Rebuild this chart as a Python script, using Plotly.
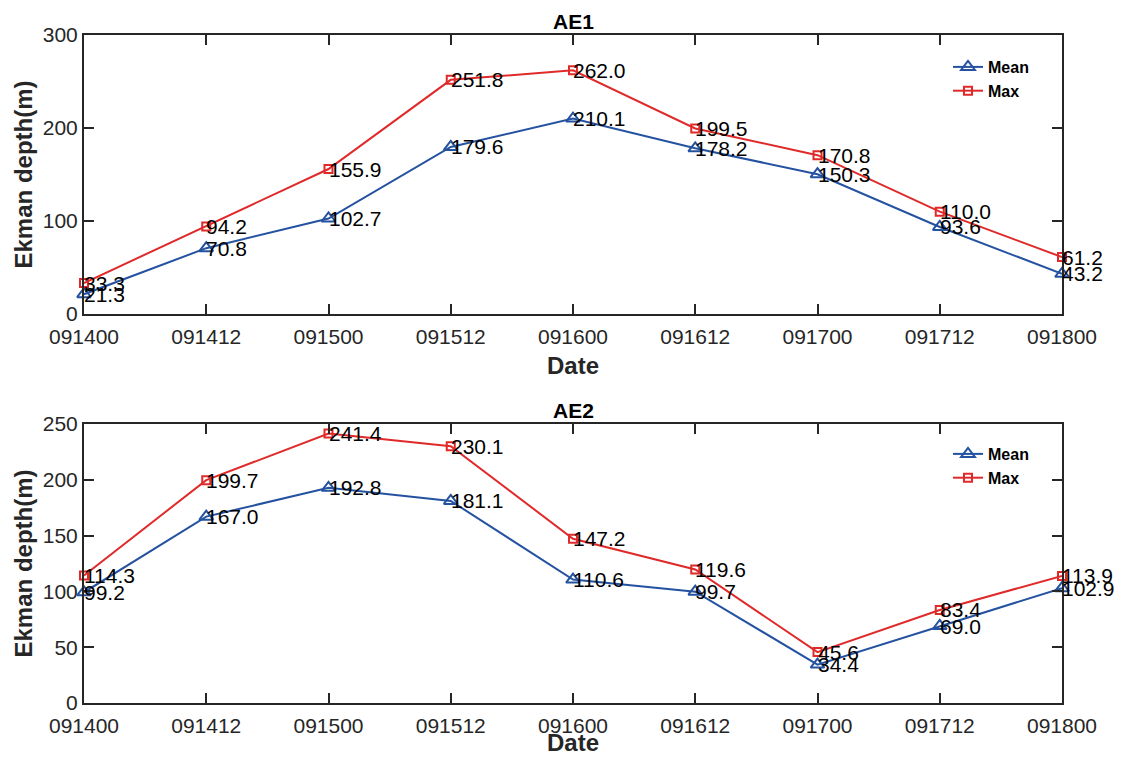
import plotly.graph_objects as go

dates = ["091400", "091412", "091500", "091512", "091600", "091612", "091700", "091712", "091800"]
ae1_mean = [21.3, 70.8, 102.7, 179.6, 210.1, 178.2, 150.3, 93.6, 43.2]
ae1_max = [33.3, 94.2, 155.9, 251.8, 262.0, 199.5, 170.8, 110.0, 61.2]
ae2_mean = [99.2, 167.0, 192.8, 181.1, 110.6, 99.7, 34.4, 69.0, 102.9]
ae2_max = [114.3, 199.7, 241.4, 230.1, 147.2, 119.6, 45.6, 83.4, 113.9]
titles = ["AE1", "AE2"]
y_ticks_top = [0, 100, 200, 300]
y_ticks_bottom = [0, 50, 100, 150, 200, 250]

BLUE = "#2452A0"
RED = "#E02A2A"
AX = "#262626"
FONT = "Liberation Sans, Arial, sans-serif"

# page body has an 8px margin; size the figure so it fits the 1125x767 window
W, H, OFF = 1109, 751, 8

xs = list(range(len(dates)))
fig = go.Figure()

panels = [
    (ae1_mean, ae1_max, "x", "y", "legend"),
    (ae2_mean, ae2_max, "x2", "y2", "legend2"),
]
for mean, mx, xa, ya, lg in panels:
    fig.add_trace(go.Scatter(
        x=xs, y=mean, mode="lines+markers", name="Mean",
        line=dict(color=BLUE, width=2),
        marker=dict(symbol="triangle-up-open", size=12, color=BLUE, line=dict(width=2, color=BLUE)),
        xaxis=xa, yaxis=ya, legend=lg, cliponaxis=False))
    fig.add_trace(go.Scatter(
        x=xs, y=mx, mode="lines+markers", name="Max",
        line=dict(color=RED, width=2),
        marker=dict(symbol="square-open", size=8, color=RED, line=dict(width=2, color=RED)),
        xaxis=xa, yaxis=ya, legend=lg, cliponaxis=False))
    for series in (mean, mx):
        for xi, v in zip(xs, series):
            fig.add_annotation(x=xi, y=v, xref=xa, yref=ya, text=f"{v:.1f}",
                               showarrow=False, xanchor="left", yanchor="middle",
                               xshift=-2, font=dict(family=FONT, size=21, color="black"))

def px_x(p):
    return (p - OFF) / W

def px_y(p):
    return 1 - (p - OFF) / H

xdom = [px_x(84), px_x(1062)]
ydom_top = [px_y(314), px_y(35)]
ydom_bot = [px_y(703), px_y(424)]

axis_common = dict(
    showline=True, linecolor=AX, linewidth=2, mirror="allticks",
    ticks="inside", ticklen=10, tickwidth=2, tickcolor=AX,
    showgrid=False, zeroline=False, automargin=False,
    tickfont=dict(family=FONT, size=21, color=AX),
)

xcommon = dict(axis_common, tickvals=xs, ticktext=dates, range=[0, len(dates) - 1],
               ticklabelstandoff=3)
ycommon = dict(axis_common, ticklabelstandoff=0,
               title=dict(text="<b>Ekman depth(m)</b>", font=dict(family=FONT, size=24, color=AX), standoff=3))

legfont = dict(family=FONT, size=16, color="black", weight="bold")
fig.update_layout(
    width=W, height=H,
    margin=dict(l=0, r=0, t=0, b=0, autoexpand=False),
    paper_bgcolor="white", plot_bgcolor="white",
    xaxis=dict(xcommon, domain=xdom, anchor="y"),
    yaxis=dict(ycommon, domain=ydom_top, range=[0, 300], tickvals=y_ticks_top, anchor="x"),
    xaxis2=dict(xcommon, domain=xdom, anchor="y2"),
    yaxis2=dict(ycommon, domain=ydom_bot, range=[0, 250], tickvals=y_ticks_bottom, anchor="x2"),
    legend=dict(x=px_x(948), y=px_y(50), xanchor="left", yanchor="top",
                bgcolor="rgba(0,0,0,0)", font=legfont, tracegroupgap=0, itemwidth=30),
    legend2=dict(x=px_x(948), y=px_y(437), xanchor="left", yanchor="top",
                 bgcolor="rgba(0,0,0,0)", font=legfont, tracegroupgap=0, itemwidth=30),
    showlegend=True,
)

for t, dom in zip(titles, [ydom_top, ydom_bot]):
    fig.add_annotation(x=(xdom[0] + xdom[1]) / 2, y=dom[1], xref="paper", yref="paper",
                       text=f"<b>{t}</b>", showarrow=False, xanchor="center", yanchor="bottom",
                       yshift=1, borderpad=0, font=dict(family=FONT, size=21, color="black"))

# x-axis titles ("Date") placed below each panel
for ycenter in (366, 742):
    fig.add_annotation(x=(xdom[0] + xdom[1]) / 2, y=px_y(ycenter), xref="paper", yref="paper",
                       text="<b>Date</b>", showarrow=False, xanchor="center", yanchor="middle",
                       borderpad=0, font=dict(family=FONT, size=24, color=AX))

fig.write_html("out.html")
